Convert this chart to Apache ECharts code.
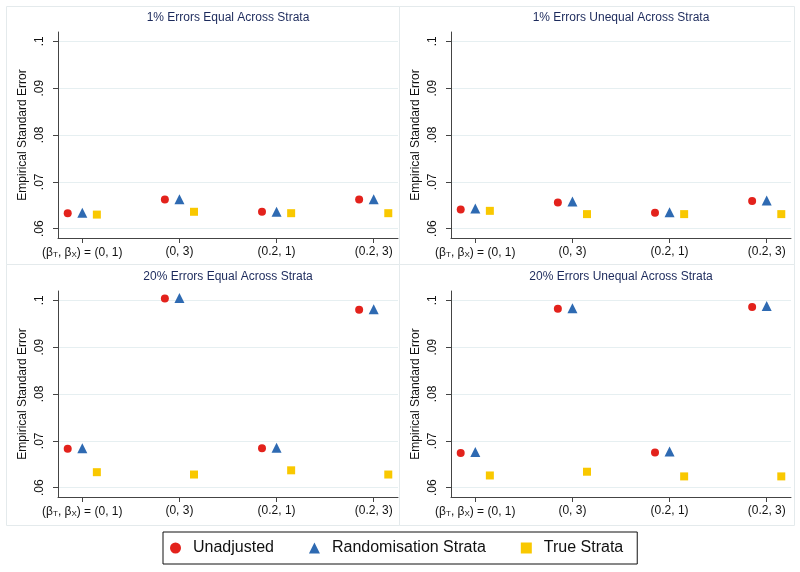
<!DOCTYPE html>
<html>
<head>
<meta charset="utf-8">
<script src="https://cdn.jsdelivr.net/npm/echarts@6/dist/echarts.min.js"></script>
<style>
html, body { margin: 0; padding: 0; background: #fff; }
#main { width: 800px; height: 572px; }
</style>
</head>
<body>
<div id="main"></div>
<script>
// 4 panels, each with 4 scenarios (beta_T, beta_X) and 3 estimators
var panelTitles = [
	'1% Errors Equal Across Strata',
	'1% Errors Unequal Across Strata',
	'20% Errors Equal Across Strata',
	'20% Errors Unequal Across Strata'
];
var xLabels = ['(β{sub|T}, β{sub|X}) = (0, 1)', '(0, 3)', '(0.2, 1)', '(0.2, 3)'];
var yTicks = [0.06, 0.07, 0.08, 0.09, 0.1];
var seriesNames = ['Unadjusted', 'Randomisation Strata', 'True Strata'];

// empirical SE per panel (order of panelTitles), one value per scenario
var unadjusted = [
	[0.0633, 0.0662, 0.0636, 0.0662],
	[0.0641, 0.0656, 0.0634, 0.0659],
	[0.0683, 0.1004, 0.0684, 0.0980],
	[0.0674, 0.0982, 0.0675, 0.0986]
];
var randStrata = [
	[0.0634, 0.0663, 0.0636, 0.0663],
	[0.0643, 0.0658, 0.0635, 0.0660],
	[0.0684, 0.1005, 0.0685, 0.0981],
	[0.0676, 0.0983, 0.0677, 0.0988]
];
var trueStrata = [
	[0.0630, 0.0636, 0.0633, 0.0633],
	[0.0638, 0.0631, 0.0631, 0.0631],
	[0.0633, 0.0628, 0.0637, 0.0628],
	[0.0626, 0.0634, 0.0624, 0.0624]
];

var colors = ['#e3221c', '#2e6ab2', '#f9c800'];
var symbols = ['circle', 'triangle', 'rect'];
var sizes = [8, 10, 8];
var shift = [-0.15, 0, 0.15];
var allData = [unadjusted, randStrata, trueStrata];

var grids = [
	{left: 58, top: 32, width: 340, height: 206},
	{left: 451, top: 32, width: 340, height: 206},
	{left: 58, top: 291, width: 340, height: 206},
	{left: 451, top: 291, width: 340, height: 206}
];

var font = 'Liberation Sans, Arial, Helvetica, sans-serif';
var axisCol = '#444';

var chart = echarts.init(document.getElementById('main'));

var titles = [], xAxes = [], yAxes = [], series = [];
grids.forEach(function (g, p) {
	titles.push({
		text: panelTitles[p],
		left: g.left + g.width / 2,
		top: p < 2 ? 12 : 271,
		textAlign: 'center',
		padding: 0,
		textStyle: {fontSize: 12, fontWeight: 'normal', color: '#1c2a5c', fontFamily: font}
	});
	xAxes.push({
		gridIndex: p,
		type: 'value',
		min: 0.75,
		max: 4.25,
		splitLine: {show: false},
		axisLine: {lineStyle: {color: axisCol}},
		axisTick: {length: 5, customValues: [1, 2, 3, 4], lineStyle: {color: axisCol}},
		axisLabel: {
			customValues: [1, 2, 3, 4],
			margin: 8,
			fontSize: 12,
			color: '#111',
			fontFamily: font,
			formatter: function (v) { return xLabels[Math.round(v) - 1]; },
			rich: {
				sub: {fontSize: 8, verticalAlign: 'bottom', color: '#111', fontFamily: font, padding: [5, 0, 0, 0]}
			}
		}
	});
	yAxes.push({
		gridIndex: p,
		type: 'value',
		min: 0.058,
		max: 0.102,
		name: 'Empirical Standard Error',
		nameLocation: 'middle',
		nameGap: 29,
		nameTextStyle: {fontSize: 12, color: '#111', fontFamily: font},
		axisLine: {show: true, lineStyle: {color: axisCol}},
		axisTick: {show: true, length: 5, customValues: yTicks, lineStyle: {color: axisCol}},
		splitLine: {show: true, lineStyle: {color: '#e6eff1', width: 1}},
		axisLabel: {
			customValues: yTicks,
			rotate: 90,
			margin: 12,
			fontSize: 12,
			color: '#111',
			fontFamily: font,
			formatter: function (v) {
				return String(+v.toFixed(2)).replace(/^0/, '');
			}
		}
	});
	for (var s = 0; s < 3; s++) {
		var vals = allData[s][p];
		series.push({
			name: seriesNames[s],
			type: 'scatter',
			xAxisIndex: p,
			yAxisIndex: p,
			symbol: symbols[s],
			symbolSize: sizes[s],
			itemStyle: {color: colors[s], opacity: 1},
			data: vals.map(function (v, i) { return [i + 1 + shift[s], v]; })
		});
	}
});

// light frames around the four panels
var frames = [
	[6, 6, 393, 258], [399, 6, 395, 258],
	[6, 264, 393, 261], [399, 264, 395, 261]
].map(function (r) {
	return {
		type: 'rect', silent: true, z: -1,
		shape: {x: r[0] + 0.5, y: r[1] + 0.5, width: r[2], height: r[3]},
		style: {fill: 'none', stroke: '#e4eaec', lineWidth: 1}
	};
});

chart.setOption({
	backgroundColor: '#fff',
	animation: false,
	title: titles,
	grid: grids,
	xAxis: xAxes,
	yAxis: yAxes,
	legend: {
		data: seriesNames,
		left: 163,
		top: 532,
		orient: 'horizontal',
		itemWidth: 11,
		itemHeight: 11,
		itemGap: 35,
		padding: [8, 14, 8, 7],
		borderColor: '#111',
		borderWidth: 1,
		textStyle: {fontSize: 16, color: '#111', fontFamily: font, padding: [0, 0, 0, 7]}
	},
	graphic: frames,
	series: series
});
</script>
</body>
</html>
